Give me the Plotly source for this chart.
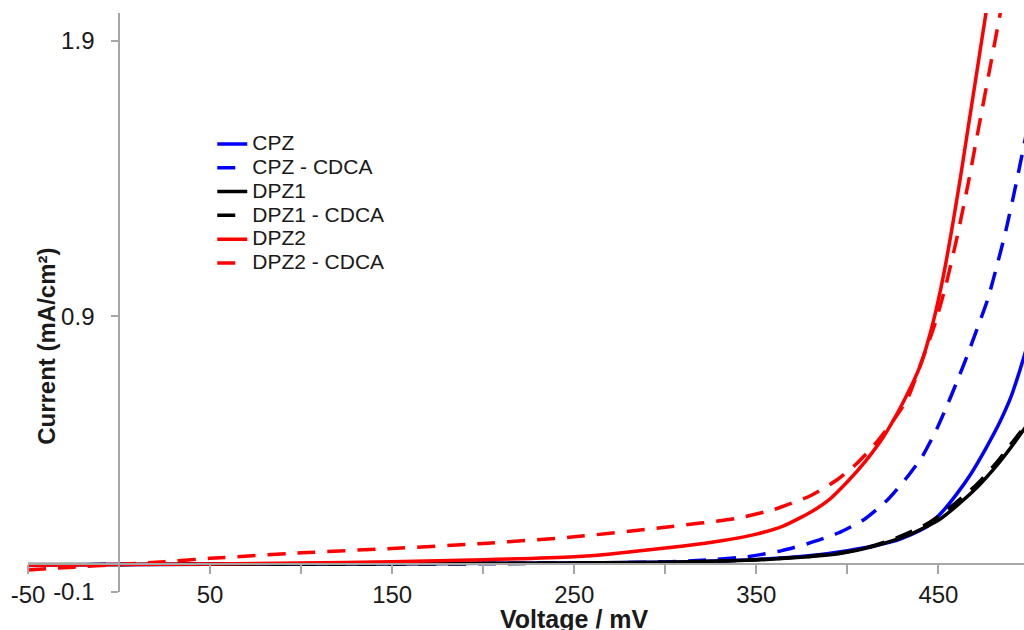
import plotly.graph_objects as go

# ---- data (voltage in mV, current in mA/cm2) ----
cpz_v = [-50, 0, 100, 200, 300, 350, 380, 400, 415, 429, 444, 452, 460, 468, 476, 484, 490, 495, 500]
cpz_j = [-0.002, 0, 0.002, 0.004, 0.008, 0.018, 0.032, 0.05, 0.068, 0.092, 0.138, 0.19, 0.255, 0.33, 0.42,
         0.52, 0.61, 0.71, 0.82]

cpz_cdca_v = [-50, 0, 100, 200, 250, 300, 320, 345, 364, 378, 395, 409, 422, 433, 441, 449, 455, 460,
              466, 471, 477, 482, 487, 492, 497, 500]
cpz_cdca_j = [-0.004, 0, 0.001, 0.003, 0.005, 0.009, 0.015, 0.028, 0.05, 0.075, 0.114, 0.162, 0.234, 0.318,
              0.39, 0.49, 0.58, 0.66, 0.76, 0.85, 0.96, 1.08, 1.21, 1.36, 1.52, 1.62]

dpz1_v = [-50, 0, 100, 200, 300, 341, 370, 396, 414, 433, 451, 469, 484, 497, 500]
dpz1_j = [0.0, 0, 0.002, 0.004, 0.008, 0.014, 0.024, 0.04, 0.065, 0.105, 0.165, 0.265, 0.375, 0.49, 0.52]

dpz1_cdca_v = [-50, 0, 100, 200, 300, 350, 380, 400, 411, 427, 444, 458, 471, 482, 495, 500]
dpz1_cdca_j = [-0.003, 0, 0.001, 0.003, 0.007, 0.017, 0.03, 0.046, 0.062, 0.096, 0.148, 0.215, 0.29, 0.37, 0.48, 0.52]

dpz2_v = [-50, 0, 50, 100, 150, 200, 250, 270, 290, 310, 330, 350, 365, 380, 390, 400, 410, 420, 430,
          440, 446, 450, 454, 458, 462, 466, 470, 474, 478]
dpz2_j = [-0.003, 0, 0.002, 0.005, 0.010, 0.017, 0.028, 0.038, 0.052, 0.067, 0.085, 0.11, 0.14, 0.19,
          0.235, 0.30, 0.375, 0.465, 0.58, 0.72, 0.85, 0.96, 1.09, 1.24, 1.40, 1.57, 1.74, 1.91, 2.08]

dpz2_cdca_v = [-50, -25, 0, 25, 50, 100, 150, 200, 250, 300, 340, 360, 380, 395, 405, 415, 425, 433, 441,
               448, 454, 460, 466, 472, 478, 484, 487]
dpz2_cdca_j = [-0.02, -0.01, 0.0, 0.01, 0.022, 0.042, 0.058, 0.076, 0.1, 0.135, 0.168, 0.2, 0.25, 0.31,
               0.365, 0.435, 0.52, 0.60, 0.74, 0.87, 1.01, 1.18, 1.37, 1.58, 1.79, 2.0, 2.1]

series_names = ["CPZ", "CPZ - CDCA", "DPZ1", "DPZ1 - CDCA", "DPZ2", "DPZ2 - CDCA"]
series_x = [cpz_v, cpz_cdca_v, dpz1_v, dpz1_cdca_v, dpz2_v, dpz2_cdca_v]
series_y = [cpz_j, cpz_cdca_j, dpz1_j, dpz1_cdca_j, dpz2_j, dpz2_cdca_j]
series_colors = ["#0000ff", "#0000ff", "#000000", "#000000", "#ff0000", "#ff0000"]
series_dash = ["solid", "18px,12px", "solid", "18px,12px", "solid", "18px,12px"]

x_tick_vals = [-50, 50, 150, 250, 350, 450]
x_tick_text = ["-50", "50", "150", "250", "350", "450"]
x_minor_vals = [0, 100, 200, 300, 400]
y_tick_vals = [-0.1, 0.9, 1.9]
y_tick_text = ["-0.1", "0.9", "1.9"]

x_title = "Voltage / mV"
y_title = "Current (mA/cm²)"

FONT = "Liberation Sans, Arial, sans-serif"

fig = go.Figure()
for name, xs, ys, col, dash in zip(series_names, series_x, series_y, series_colors, series_dash):
    fig.add_trace(go.Scatter(x=xs, y=ys, mode="lines",
                             name='<span style="font-size:21px">' + name + '</span>',
                             line=dict(color=col, width=3.5, dash=dash, shape="spline", smoothing=0.6)))

x_min, x_max = -50, 497
y_min, y_max = -0.1, 2.0

fig.update_layout(
    width=1024, height=630,
    margin=dict(l=28, r=0, t=13, b=38),
    paper_bgcolor="white", plot_bgcolor="white",
    font=dict(family=FONT, color="#1a1a1a", size=24),
    legend=dict(x=0.185, y=0.803, xanchor="left", yanchor="top",
                font=dict(size=16, family=FONT, color="#1a1a1a"),
                bgcolor="rgba(0,0,0,0)", borderwidth=0),
    xaxis=dict(range=[x_min, x_max], anchor="free",
               position=(0 - y_min) / (y_max - y_min),
               showgrid=False, zeroline=False,
               showline=True, linecolor="#a6a6a6", linewidth=1.5,
               ticks="outside", ticklen=9, tickcolor="#a6a6a6", tickwidth=1.5,
               tickmode="array", tickvals=x_tick_vals, ticktext=x_tick_text,
               minor=dict(ticks="outside", ticklen=9, tickcolor="#a6a6a6", tickwidth=1.5,
                          tickmode="array", tickvals=x_minor_vals),
               tickfont=dict(size=24, family=FONT, color="#1a1a1a")),
    yaxis=dict(range=[y_min, y_max], anchor="free",
               position=(0 - x_min) / (x_max - x_min),
               showgrid=False, zeroline=False,
               showline=True, linecolor="#a6a6a6", linewidth=1.5,
               ticks="outside", ticklen=7, tickcolor="#a6a6a6", tickwidth=1.5,
               tickmode="array", tickvals=y_tick_vals, ticktext=y_tick_text,
               ticklabelstandoff=12,
               tickfont=dict(size=24, family=FONT, color="#1a1a1a")),
)

fig.add_annotation(text="<b>" + x_title + "</b>", xref="x", yref="paper",
                   x=250, y=-0.047, xanchor="center", yanchor="middle", showarrow=False,
                   font=dict(size=25, family=FONT, color="#1a1a1a"))
fig.add_annotation(text="<b>" + y_title + "</b>", xref="paper", yref="paper",
                   x=0.019, y=0.425, xanchor="center", yanchor="middle", textangle=-90,
                   showarrow=False, font=dict(size=24, family=FONT, color="#1a1a1a"))

fig.write_html("out.html")
